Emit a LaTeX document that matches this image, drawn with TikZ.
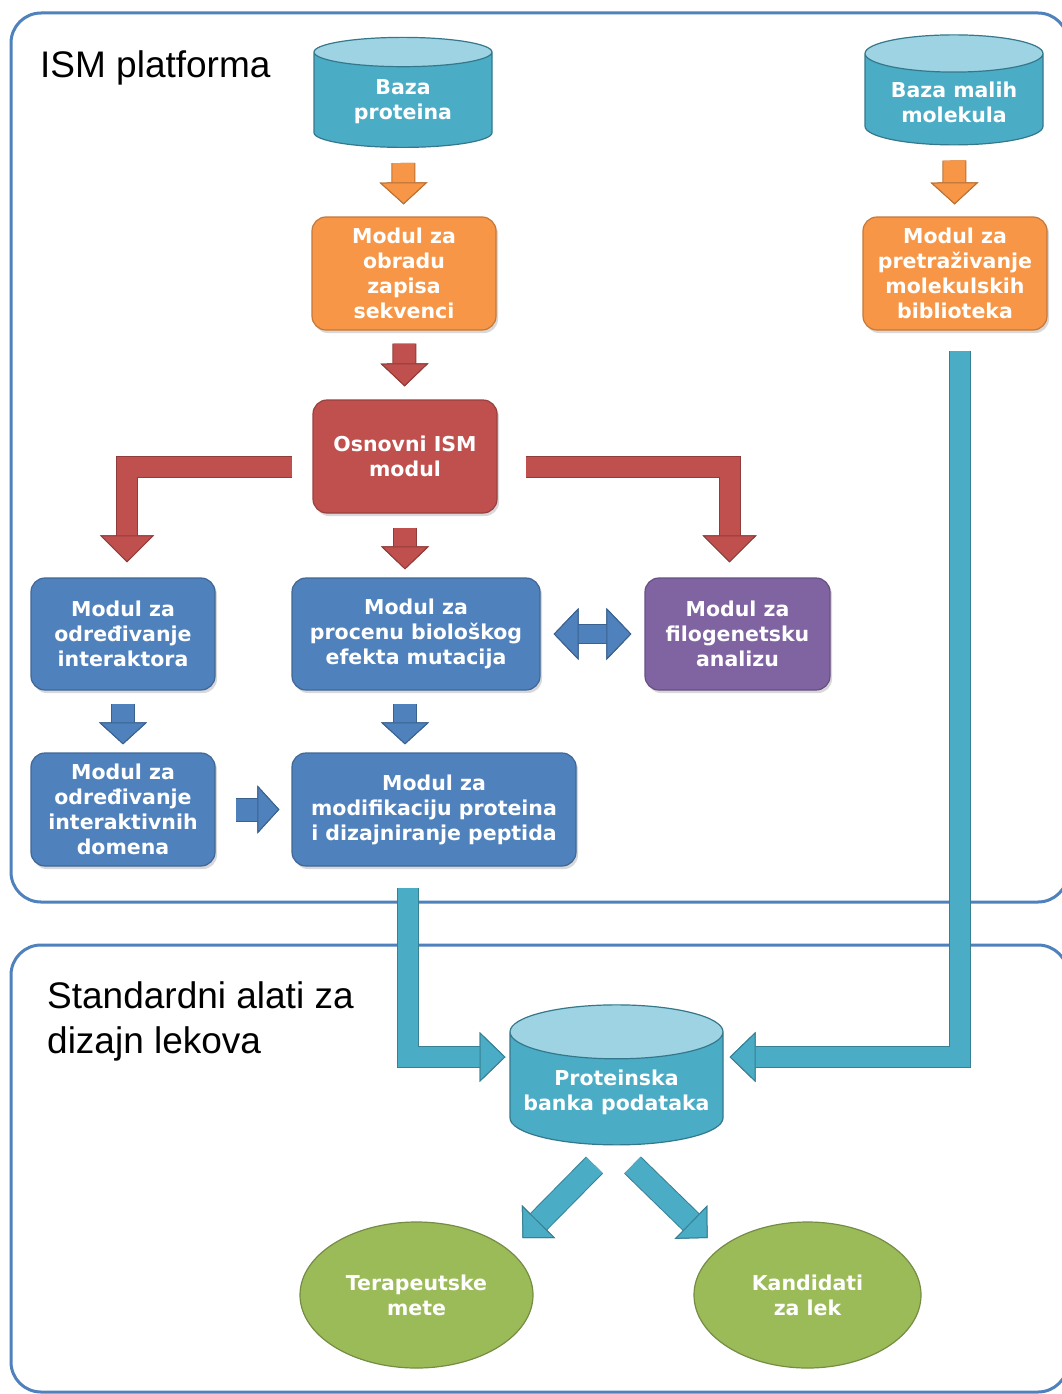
\documentclass[tikz,border=0pt]{standalone}
\usepackage{fontspec}
\setmainfont{Liberation Sans}
\newfontfamily\boxfam{DejaVu Sans}
\usetikzlibrary{shapes.geometric,arrows.meta,shadows}

\definecolor{cteal}{HTML}{4BACC6}
\definecolor{ctealtop}{HTML}{9DD3E2}
\definecolor{corange}{HTML}{F79646}
\definecolor{cred}{HTML}{C0504D}
\definecolor{cblue}{HTML}{4F81BD}
\definecolor{cpurple}{HTML}{8064A2}
\definecolor{cgreen}{HTML}{9BBB59}
\definecolor{cframe}{HTML}{4F81BD}

\newcommand\boxfont{\boxfam\bfseries\fontsize{20.5}{25}\selectfont}
\newcommand\titlefont{\fontsize{37}{44.5}\selectfont}

\begin{document}
\begin{tikzpicture}[x=1pt, y=-1pt,
    modul/.style={rounded corners=14pt, fill=#1, draw=#1!80!black, line width=1.2pt,
        text=white, align=center, font=\boxfont, minimum height=113pt, inner sep=2pt,
        drop shadow={shadow xshift=2pt, shadow yshift=-3pt, opacity=0.3}},
    baza/.style={shape=cylinder, shape border rotate=90, aspect=0.28,
        cylinder uses custom fill, cylinder body fill=cteal, cylinder end fill=ctealtop,
        draw=cteal!70!black, line width=1.2pt, text=white, align=center, font=\boxfont,
        minimum width=#1},
    cilj/.style={ellipse, fill=cgreen, draw=cgreen!75!black, line width=1.2pt,
        text=white, align=center, font=\boxfont, minimum height=146pt},
    blk/.style n args={4}{draw=#1, line width=#2, line join=miter,
        preaction={draw=#1!75!black, line width=#2+2pt},
        >={Triangle[length=#3, width=#4, line width=1pt, color=#1!75!black, fill=#1]}, ->},
    okvir/.style={draw=cframe, line width=3pt, rounded corners=30pt}]

\useasboundingbox (0,0) rectangle (1062,1394);
\clip (0,0) rectangle (1062,1394);
\fill[white] (0,0) rectangle (1062,1394);

% okviri
\draw[okvir] (11,13) rectangle (1068,902);
\draw[okvir] (11,945) rectangle (1068,1392);
\node[anchor=base west, font=\titlefont, inner sep=0pt] (ism) at (40,78) {ISM platforma};
\node[anchor=base west, font=\titlefont, inner sep=0pt, align=left] (std) at (47,1053)
    {Standardni alati za\\dizajn lekova};

% ISM platforma
\node[baza=178pt, minimum height=110pt] (baza) at (403,102) {Baza\\proteina};
\node[modul=corange, minimum width=184pt] (obrada) at (404,273.5) {Modul za\\obradu\\zapisa\\sekvenci};
\node[modul=cred, minimum width=184pt] (osnovni) at (405,456.5) {Osnovni ISM\\modul};
\node[modul=cblue, minimum width=184pt, minimum height=112pt] (interaktori) at (123,634)
    {Modul za\\određivanje\\interaktora};
\node[modul=cblue, minimum width=248pt, minimum height=112pt] (procena) at (416,634)
    {Modul za\\procenu biološkog\\efekta mutacija};
\node[modul=cpurple, minimum width=185pt, minimum height=112pt] (filogenija) at (737.5,634)
    {Modul za\\filogenetsku\\analizu};
\node[modul=cblue, minimum width=184pt] (domeni) at (123,809.5)
    {Modul za\\određivanje\\interaktivnih\\domena};
\node[modul=cblue, minimum width=284pt] (modifikacija) at (434,809.5)
    {Modul za\\modifikaciju proteina\\i dizajniranje peptida};
\node[baza=178pt, minimum height=110pt] (malih) at (954,102) {Baza malih\\molekula};
\node[modul=corange, minimum width=184pt] (pretraga) at (955,273.5)
    {Modul za\\pretraživanje\\molekulskih\\biblioteka};

% standardni alati
\node[baza=213pt, minimum height=140pt] (banka) at (616.5,1092) {Proteinska\\banka podataka};
\node[cilj, minimum width=233pt] (mete) at (416.5,1295) {Terapeutske\\mete};
\node[cilj, minimum width=227pt] (kandidati) at (807.5,1295) {Kandidati\\za lek};

% strelice
\draw[blk={corange}{22pt}{22pt}{48pt}, shorten <=15pt, shorten >=12pt] (baza) -- (obrada);
\draw[blk={corange}{22pt}{22pt}{48pt}, shorten <=15pt, shorten >=12pt] (malih) -- (pretraga);
\draw[blk={cred}{22pt}{23pt}{48pt}, shorten <=13pt, shorten >=13pt] (obrada) -- (osnovni);
\draw[blk={cred}{20pt}{27pt}{54pt}, shorten <=20pt, shorten >=15pt]
    ([yshift=-10pt]osnovni.west) -| ([xshift=4pt]interaktori.north);
\draw[blk={cred}{20pt}{27pt}{54pt}, shorten <=28pt, shorten >=15pt]
    ([yshift=-10pt]osnovni.east) -| ([xshift=-8pt]filogenija.north);
\draw[blk={cred}{22pt}{23pt}{48pt}, shorten <=14pt, shorten >=8pt]
    (osnovni) -- (osnovni |- procena.north);
\draw[blk={cblue}{18pt}{25pt}{52pt}, <->, shorten <=13pt, shorten >=13pt] (procena) -- (filogenija);
\draw[blk={cblue}{22pt}{22pt}{48pt}, shorten <=13pt, shorten >=8pt] (interaktori) -- (domeni);
\draw[blk={cblue}{22pt}{22pt}{48pt}, shorten <=13pt, shorten >=8pt]
    (procena.south -| osnovni) -- (modifikacija.north -| osnovni);
\draw[blk={cblue}{22pt}{22pt}{48pt}, shorten <=20pt, shorten >=12pt] (domeni) -- (modifikacija);
\draw[blk={cteal}{20pt}{26pt}{50pt}, shorten <=20pt]
    ([xshift=5pt]pretraga.south) |- ([xshift=113pt,yshift=35pt]banka.center);
\draw[blk={cteal}{20pt}{26pt}{50pt}]
    ([xshift=-26pt,yshift=-21pt]modifikacija.south) |- ([xshift=-111pt,yshift=35pt]banka.center);
\draw[blk={cteal}{22pt}{23pt}{47pt}]
    ([xshift=-22pt,yshift=-73pt]banka.center) -- ([xshift=106pt,yshift=57pt]mete.center);
\draw[blk={cteal}{22pt}{23pt}{47pt}]
    ([xshift=16pt,yshift=-73pt]banka.center) -- ([xshift=-100pt,yshift=57pt]kandidati.center);
\end{tikzpicture}
\end{document}
